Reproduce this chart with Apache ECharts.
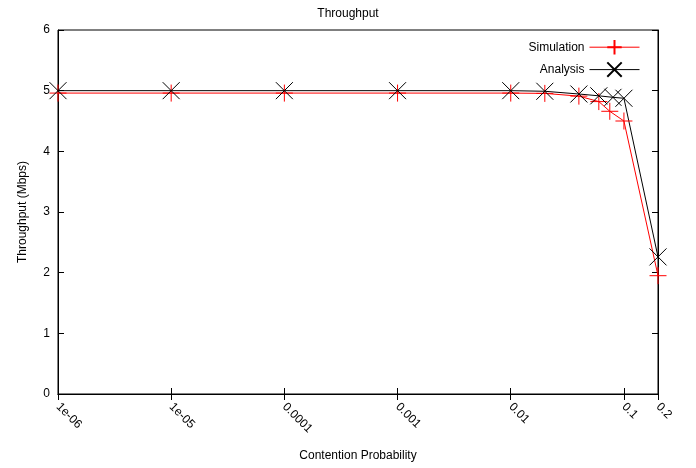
<!DOCTYPE html>
<html><head><meta charset="utf-8">
<script src="https://cdn.jsdelivr.net/npm/echarts@6/dist/echarts.min.js"></script>
<style>html,body{margin:0;padding:0;background:#fff}#c{width:696px;height:468px}</style>
</head><body><div id="c"></div>
<script>
var simX = [1e-6, 1e-5, 1e-4, 1e-3, 0.01, 0.02, 0.04, 0.06, 0.075, 0.1, 0.2];
var simY = [4.96, 4.96, 4.96, 4.96, 4.96, 4.955, 4.91, 4.82, 4.66, 4.50, 1.95];
var anaX = [1e-6, 1e-5, 1e-4, 1e-3, 0.01, 0.02, 0.04, 0.06, 0.08, 0.1, 0.2];
var anaY = [5.0, 5.0, 5.0, 5.0, 5.0, 4.99, 4.945, 4.915, 4.89, 4.875, 2.26];
var xTickValues = [1e-6, 1e-5, 1e-4, 1e-3, 0.01, 0.1, 0.2];
var xTickLabels = ['1e-06', '1e-05', '0.0001', '0.001', '0.01', '0.1', '0.2'];
var yTicks = [0, 1, 2, 3, 4, 5, 6];

function pairs(xs, ys) { return xs.map(function (x, i) { return [x, ys[i]]; }); }
function xLabel(v) {
  var best = '', bd = Infinity;
  for (var i = 0; i < xTickValues.length; i++) {
    var d = Math.abs(Math.log10(v) - Math.log10(xTickValues[i]));
    if (d < bd) { bd = d; best = xTickLabels[i]; }
  }
  return bd < 0.01 ? best : '';
}
var FONT = 'Liberation Sans';
var plusPath = 'path://M0,10 L20,10 M10,0 L10,20';
var crossPath = 'path://M0,0 L20,20 M20,0 L0,20';
var chart = echarts.init(document.getElementById('c'));
chart.setOption({
  animation: false,
  backgroundColor: '#fff',
  textStyle: { fontFamily: FONT, color: '#000' },
  title: { text: 'Throughput', left: 'center', top: 3, textStyle: { fontFamily: FONT, fontSize: 12, fontWeight: 'normal', color: '#000' } },
  legend: {
    orient: 'vertical', right: 51, top: 34, align: 'right',
    itemWidth: 50, itemHeight: 18, itemGap: 6,
    lineStyle: { width: 1 },
    textStyle: { fontFamily: FONT, fontSize: 12, color: '#000' },
    data: ['Simulation', 'Analysis']
  },
  grid: { left: 58, right: 38, top: 30, bottom: 74, show: true, borderColor: '#000', borderWidth: 1 },
  xAxis: [{
    type: 'log', min: 1e-6, max: 0.2, logBase: 10,
    name: 'Contention Probability', nameLocation: 'middle', nameGap: 56,
    nameTextStyle: { fontFamily: FONT, fontSize: 12, color: '#000' },
    axisLine: { lineStyle: { color: '#000' } },
    axisTick: { inside: true, length: 6, lineStyle: { color: '#000' } },
    minorTick: { show: false }, splitLine: { show: false },
    axisLabel: { rotate: -45, fontFamily: FONT, fontSize: 12, color: '#000', margin: 11, formatter: xLabel, showMinLabel: true, showMaxLabel: true }
  }, {
    type: 'log', min: 1e-6, max: 0.2, logBase: 10, position: 'top',
    axisLine: { lineStyle: { color: '#000' } },
    axisTick: { inside: true, length: 6, lineStyle: { color: '#000' } },
    axisLabel: { show: false }, splitLine: { show: false }
  }],
  yAxis: [{
    type: 'value', min: yTicks[0], max: yTicks[yTicks.length - 1], interval: 1,
    name: 'Throughput (Mbps)', nameLocation: 'middle', nameGap: 29,
    nameTextStyle: { fontFamily: FONT, fontSize: 12, color: '#000' },
    axisLine: { show: true, lineStyle: { color: '#000' } },
    axisTick: { show: true, inside: true, length: 6, lineStyle: { color: '#000' } },
    splitLine: { show: false },
    axisLabel: { fontFamily: FONT, fontSize: 12, color: '#000', margin: 8 }
  }, {
    type: 'value', min: yTicks[0], max: yTicks[yTicks.length - 1], interval: 1, position: 'right',
    axisLine: { show: true, lineStyle: { color: '#000' } },
    axisTick: { show: true, inside: true, length: 6, lineStyle: { color: '#000' } },
    splitLine: { show: false }, axisLabel: { show: false }
  }],
  series: [{
    name: 'Simulation', type: 'line', data: pairs(simX, simY),
    symbol: plusPath, symbolSize: 17,
    itemStyle: { color: '#ff0000', borderColor: '#ff0000', borderWidth: 1 },
    lineStyle: { color: '#ff0000', width: 1 }
  }, {
    name: 'Analysis', type: 'line', data: pairs(anaX, anaY),
    symbol: crossPath, symbolSize: 17,
    itemStyle: { color: '#000', borderColor: '#000', borderWidth: 1 },
    lineStyle: { color: '#000', width: 1 }
  }]
});
</script></body></html>
